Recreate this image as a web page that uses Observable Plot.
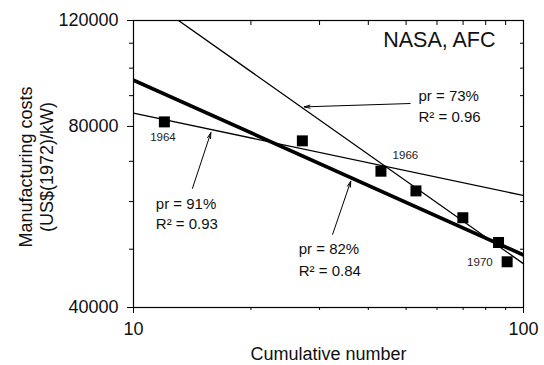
<!DOCTYPE html>
<html><head><meta charset="utf-8">
<script src="https://cdn.jsdelivr.net/npm/d3@7"></script>
<script src="https://cdn.jsdelivr.net/npm/@observablehq/plot@0.6"></script>
<style>html,body{margin:0;padding:0;background:#fff;} svg{display:block}</style>
</head><body><div id="chart"></div>
<script>
// Observed data: cumulative number of units vs manufacturing cost (US$(1972)/kW)
const cumulative = [12, 27.1, 43.1, 53.0, 69.9, 86.3, 90.8];
const costs = [81400, 75700, 67400, 62500, 56400, 51300, 47650];

// Fitted experience curves (values at x = 10 and x = 100)
const fitX = [10, 100];
const fit91 = [84200, 61400];
const fit82 = [95500, 48900];
const fit73 = [135500, 47300];

// Year labels
const yearText = ["1964", "1966", "1970"];
const yearX = [11.9, 49.8, 77.3];
const yearY = [76600, 71700, 47600];

// Annotation texts
const annText = ["pr = 73%", "R\u00B2 = 0.96", "pr = 91%", "R\u00B2 = 0.93", "pr = 82%", "R\u00B2 = 0.84"];
const annX = [53.8, 53.8, 11.41, 11.41, 26.53, 26.53];
const annY = [89950, 82990, 59510, 55000, 49960, 45900];

// Arrows (tail -> head)
const arrowX1 = [51.2, 14.16, 32.4];
const arrowY1 = [87330, 63090, 52930];
const arrowX2 = [27.4, 15.79, 36.07];
const arrowY2 = [86220, 78120, 64880];

// Ticks
const xMajor = [10, 100];
const xMinor = [20, 30, 40, 50, 60, 70, 80, 90];
const yMajor = [40000, 80000, 120000];
const yMinor = [50000, 60000, 70000, 90000, 100000, 110000];

const points = cumulative.map((x, i) => ({x, y: costs[i]}));
const lineData = (ys, name) => fitX.map((x, i) => ({x, y: ys[i], name}));
const years = yearText.map((t, i) => ({t, x: yearX[i], y: yearY[i]}));
const anns = annText.map((t, i) => ({t, x: annX[i], y: annY[i]}));
const arrows = arrowX1.map((x1, i) => ({x1, y1: arrowY1[i], x2: arrowX2[i], y2: arrowY2[i]}));
const none = () => "";

const font = "'Liberation Sans', Arial, Helvetica, sans-serif";

const chart = Plot.plot({
  width: 544,
  height: 365,
  marginLeft: 133,
  marginRight: 21,
  marginTop: 20,
  marginBottom: 58,
  style: {fontFamily: font, fontSize: "18px", color: "black", background: "white"},
  x: {type: "log", domain: [10, 100], label: null},
  y: {type: "log", domain: [40000, 120000], label: null},
  marks: [
    Plot.line(lineData(fit91), {x: "x", y: "y", stroke: "black", strokeWidth: 1.3, clip: true}),
    Plot.line(lineData(fit73), {x: "x", y: "y", stroke: "black", strokeWidth: 1.3, clip: true}),
    Plot.line(lineData(fit82), {x: "x", y: "y", stroke: "black", strokeWidth: 3.6, clip: true}),
    Plot.dot(points, {x: "x", y: "y", symbol: "square", r: 6.2, fill: "black", stroke: null}),
    Plot.arrow(arrows, {x1: "x1", y1: "y1", x2: "x2", y2: "y2", stroke: "black", strokeWidth: 1, headLength: 9, headAngle: 30}),
    Plot.text(years, {x: "x", y: "y", text: "t", fontSize: 11.5, fill: "#222"}),
    Plot.text(anns, {x: "x", y: "y", text: "t", fontSize: 15, textAnchor: "start", fill: "#111"}),
    Plot.text(["NASA, AFC"], {frameAnchor: "top-right", dx: -28, dy: 11, fontSize: 21.5, textAnchor: "end", lineAnchor: "top", fill: "#111"}),
    // axes
    Plot.axisX(xMajor, {anchor: "bottom", tickSize: 6, tickPadding: 9, tickFormat: d => String(d), label: null, fill: "#111"}),
    Plot.axisX(xMinor, {anchor: "bottom", tickSize: 3, tickFormat: none, label: null}),
    Plot.axisX(xMajor.concat(xMinor), {anchor: "top", tickSize: -4, tickFormat: none, label: null}),
    Plot.axisY(yMajor, {anchor: "left", tickSize: 6, tickPadding: 9, tickFormat: d => String(d), label: null, fill: "#111"}),
    Plot.axisY(yMinor, {anchor: "left", tickSize: 4, tickFormat: none, label: null}),
    Plot.axisY(yMajor.concat(yMinor), {anchor: "right", tickSize: -4, tickFormat: none, label: null}),
    Plot.frame({stroke: "black", strokeWidth: 1.2}),
    // axis titles
    Plot.text(["Manufacturing costs\n(US$(1972)/kW)"], {frameAnchor: "left", textAnchor: "middle", rotate: -90, dx: -98, dy: 3, fontSize: 18, lineHeight: 1.17, lineAnchor: "middle", fill: "#111"}),
    Plot.text(["Cumulative number"], {frameAnchor: "bottom", textAnchor: "middle", dy: 40, fontSize: 18, lineAnchor: "top", fill: "#111"})
  ]
});
document.getElementById("chart").appendChild(chart);
</script>
</body></html>
